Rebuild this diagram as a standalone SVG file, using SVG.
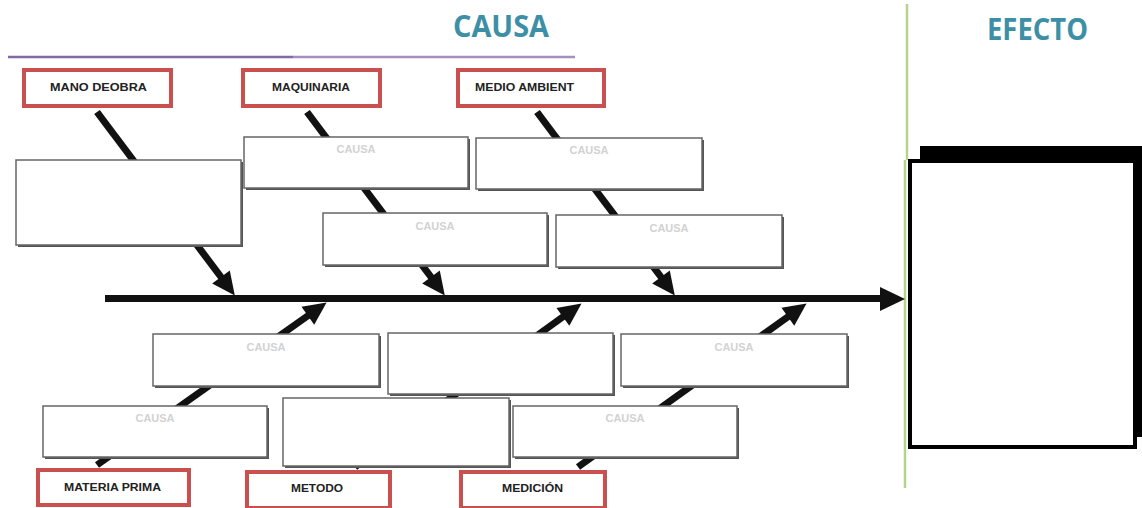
<svg xmlns="http://www.w3.org/2000/svg" width="1142" height="508" viewBox="0 0 1142 508">
<style>
.title{font-family:"Open Sans","Liberation Sans",sans-serif;font-weight:bold;font-size:30px;fill:#3d8fa6}
.cat rect{fill:#fff;stroke:#c9504f;stroke-width:4}
.cat text{font-family:"Liberation Sans",Arial,sans-serif;font-weight:bold;font-size:11px;fill:#222;text-anchor:middle}
.box .sh{fill:#555}
.box .fr{fill:#fff;stroke:#666;stroke-width:1.5}
.box text{font-family:"Liberation Sans",Arial,sans-serif;font-weight:bold;font-size:11px;fill:#d2d2d2;text-anchor:middle}
.bone{stroke:#111;stroke-width:7;fill:none;marker-end:url(#ah)}
</style>
<defs>
<marker id="ah" markerUnits="userSpaceOnUse" markerWidth="28" markerHeight="26" viewBox="-2 -13 28 26" refX="10" refY="0" orient="auto">
<path d="M0,-11 L23,0 L0,11 z" fill="#111"/>
</marker>
</defs>
<rect width="1142" height="508" fill="#fff"/>
<g id="titles">
<text class="title" x="453" y="37" textLength="96" lengthAdjust="spacingAndGlyphs">CAUSA</text>
<text class="title" x="987" y="40" textLength="101" lengthAdjust="spacingAndGlyphs">EFECTO</text>
<line x1="8" y1="57" x2="293" y2="57" stroke="#8567a4" stroke-width="2.5"/>
<line x1="293" y1="57" x2="575" y2="57" stroke="#a68ebf" stroke-width="2.5"/>
<line x1="907" y1="4" x2="907" y2="160" stroke="#b5d38a" stroke-width="2.5"/>
<line x1="905" y1="160" x2="905" y2="488" stroke="#b5d38a" stroke-width="2.5"/>
</g>
<g id="connectors">
<line x1="105" y1="298.5" x2="882" y2="298.5" stroke="#111" stroke-width="7"/>
<path d="M880,287 L905,299 L880,311 z" fill="#111"/>
<line class="bone" x1="97" y1="112" x2="227" y2="285"/>
<line class="bone" x1="307" y1="112" x2="437" y2="285"/>
<line class="bone" x1="537" y1="112" x2="667" y2="285"/>
<line class="bone" x1="97" y1="465" x2="316" y2="310"/>
<line class="bone" x1="355" y1="467" x2="571" y2="311"/>
<line class="bone" x1="578" y1="467" x2="796" y2="311"/>
</g>
<g id="cat-mano" class="cat"><rect x="24" y="70" width="147" height="36"/><text x="98.5" y="91" textLength="97" lengthAdjust="spacingAndGlyphs">MANO DEOBRA</text></g>
<g id="cat-maquinaria" class="cat"><rect x="243" y="70" width="137" height="36"/><text x="311" y="91" textLength="78" lengthAdjust="spacingAndGlyphs">MAQUINARIA</text></g>
<g id="cat-medio" class="cat"><rect x="458" y="70" width="146" height="36"/><text x="524.5" y="91" textLength="99" lengthAdjust="spacingAndGlyphs">MEDIO AMBIENT</text></g>
<g id="cat-materia" class="cat"><rect x="38" y="470" width="151" height="35"/><text x="112.5" y="491" textLength="97" lengthAdjust="spacingAndGlyphs">MATERIA PRIMA</text></g>
<g id="cat-metodo" class="cat"><rect x="247" y="472" width="143" height="36"/><text x="317" y="492" textLength="52" lengthAdjust="spacingAndGlyphs">METODO</text></g>
<g id="cat-medicion" class="cat"><rect x="461" y="472" width="144" height="36"/><text x="532.5" y="492" textLength="61" lengthAdjust="spacingAndGlyphs">MEDICIÓN</text></g>
<g id="box-t0" class="box"><rect class="sh" x="18" y="162" width="225" height="85"/><rect class="fr" x="16" y="160" width="225" height="85"/></g>
<g id="box-t1" class="box"><rect class="sh" x="246" y="139" width="224" height="51"/><rect class="fr" x="244" y="137" width="224" height="51"/><text x="356" y="153">CAUSA</text></g>
<g id="box-t2" class="box"><rect class="sh" x="478" y="140" width="226" height="51"/><rect class="fr" x="476" y="138" width="226" height="51"/><text x="589" y="154">CAUSA</text></g>
<g id="box-t3" class="box"><rect class="sh" x="325" y="215" width="224" height="52"/><rect class="fr" x="323" y="213" width="224" height="52"/><text x="435" y="230">CAUSA</text></g>
<g id="box-t4" class="box"><rect class="sh" x="558" y="217" width="226" height="52"/><rect class="fr" x="556" y="215" width="226" height="52"/><text x="669" y="232">CAUSA</text></g>
<g id="box-b1" class="box"><rect class="sh" x="155" y="336" width="226" height="52"/><rect class="fr" x="153" y="334" width="226" height="52"/><text x="266" y="351">CAUSA</text></g>
<g id="box-b2" class="box"><rect class="sh" x="390" y="335" width="225" height="61"/><rect class="fr" x="388" y="333" width="225" height="61"/></g>
<g id="box-b3" class="box"><rect class="sh" x="623" y="336" width="226" height="52"/><rect class="fr" x="621" y="334" width="226" height="52"/><text x="734" y="351">CAUSA</text></g>
<g id="box-b4" class="box"><rect class="sh" x="45" y="408" width="224" height="51"/><rect class="fr" x="43" y="406" width="224" height="51"/><text x="155" y="422">CAUSA</text></g>
<g id="box-b5" class="box"><rect class="sh" x="285" y="400" width="226" height="68"/><rect class="fr" x="283" y="398" width="226" height="68"/></g>
<g id="box-b6" class="box"><rect class="sh" x="515" y="408" width="224" height="51"/><rect class="fr" x="513" y="406" width="224" height="51"/><text x="625" y="422">CAUSA</text></g>
<g id="effect">
<rect x="920" y="146" width="222" height="291" fill="#000"/>
<rect x="910" y="161" width="225" height="286" fill="#fff" stroke="#000" stroke-width="4"/>
</g>
</svg>
